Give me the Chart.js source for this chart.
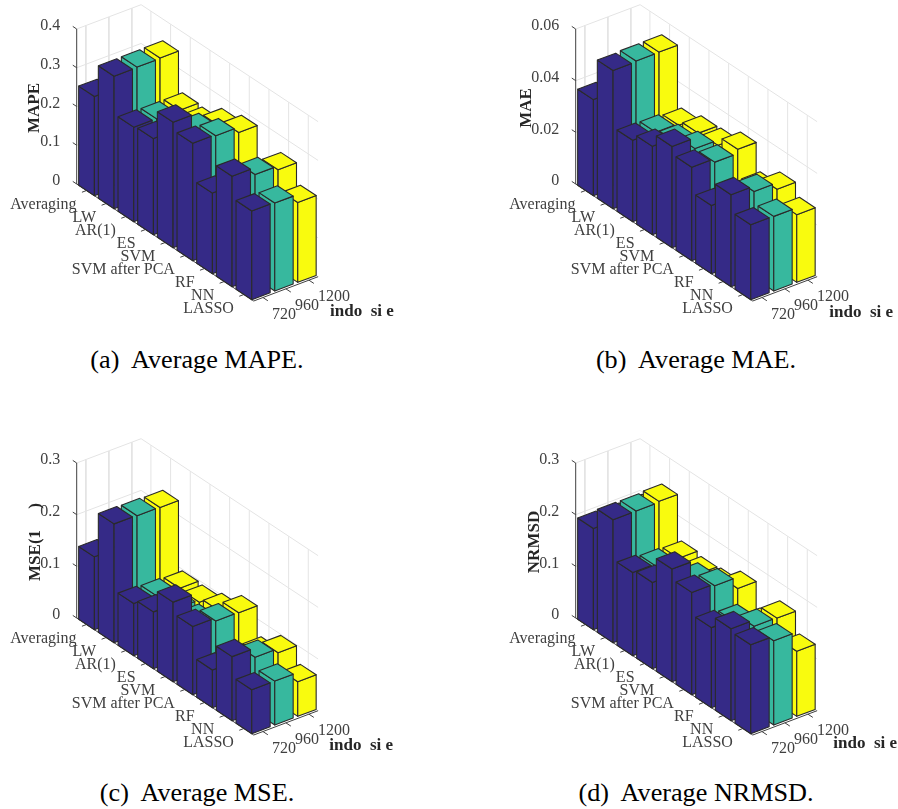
<!DOCTYPE html>
<html>
<head>
<meta charset="utf-8">
<title>Average errors</title>
<script src="https://cdn.jsdelivr.net/npm/chart.js@4"></script>
<style>
  html, body { margin: 0; padding: 0; background: #fff; }
  #page { position: relative; width: 898px; height: 809px; overflow: hidden; }
  canvas { position: absolute; }
  .caption {
    position: absolute; width: 400px; text-align: center; white-space: pre;
    font: 26.2px "Liberation Serif", serif; color: #000; line-height: 30px;
  }
</style>
</head>
<body>
<div id="page">
  <canvas id="chartA" width="399" height="340" style="left:0;top:0"></canvas>
  <canvas id="chartB" width="399" height="340" style="left:499px;top:0"></canvas>
  <canvas id="chartC" width="399" height="340" style="left:0;top:433.7px"></canvas>
  <canvas id="chartD" width="399" height="340" style="left:499px;top:433.7px"></canvas>
  <div class="caption" style="left:-3px;top:345px">(a)  Average MAPE.</div>
  <div class="caption" style="left:496px;top:345px">(b)  Average MAE.</div>
  <div class="caption" style="left:-3px;top:778px">(c)  Average MSE.</div>
  <div class="caption" style="left:496px;top:778px">(d)  Average NRMSD.</div>
</div>
<script>
const methods = ['Averaging', 'LW', 'AR(1)', 'ES', 'SVM', 'SVM after PCA', 'RF', 'NN', 'LASSO'];
const windowSizes = ['720', '960', '1200'];

const mape720 = [0.256, 0.342, 0.244, 0.248, 0.324, 0.303, 0.208, 0.285, 0.229];
const mape960 = [0.250, 0.343, 0.243, 0.245, 0.280, 0.300, 0.205, 0.267, 0.227];
const mape1200 = [0.250, 0.344, 0.243, 0.240, 0.270, 0.286, 0.200, 0.257, 0.206];
const mapeTicks = [0, 0.1, 0.2, 0.3, 0.4];

const mae720 = [0.0372, 0.0535, 0.0315, 0.0342, 0.0392, 0.0362, 0.0264, 0.0356, 0.0290];
const mae960 = [0.0370, 0.0538, 0.0313, 0.0327, 0.0350, 0.0348, 0.0260, 0.0335, 0.0289];
const mae1200 = [0.0370, 0.0539, 0.0306, 0.0326, 0.0329, 0.0364, 0.0260, 0.0310, 0.0262];
const maeTicks = [0, 0.02, 0.04, 0.06];

const mse720 = [0.141, 0.230, 0.101, 0.110, 0.154, 0.132, 0.073, 0.124, 0.085];
const mse960 = [0.140, 0.229, 0.099, 0.100, 0.100, 0.126, 0.070, 0.106, 0.085];
const mse1200 = [0.140, 0.228, 0.097, 0.095, 0.104, 0.125, 0.070, 0.098, 0.067];
const mseTicks = [0, 0.1, 0.2, 0.3];

const nrmsd720 = [0.196, 0.238, 0.161, 0.167, 0.218, 0.198, 0.155, 0.178, 0.172];
const nrmsd960 = [0.195, 0.238, 0.157, 0.155, 0.180, 0.194, 0.150, 0.166, 0.163];
const nrmsd1200 = [0.195, 0.240, 0.155, 0.150, 0.153, 0.172, 0.126, 0.165, 0.126];
const nrmsdTicks = [0, 0.1, 0.2, 0.3];

// colours of the three windows (parula), same order as windowSizes
const barColors = ['#352a87', '#37b89e', '#f9fb0e'];
const edgeColor = '#2a2a2a';
const gridColor = '#e4e4e4';
const axisColor = '#404040';

// the view of the 3D box, in px
const AXIS_LEFT = 76.7;
const FLOOR_Y = 184;
const BOX_HEIGHT = 155;
const METHOD_DX = 19.67;
const METHOD_DY = 13;
const WINDOW_DX = 23;
const WINDOW_DY = 8.68;
const CANVAS_W = 399;
const CANVAS_H = 340;

const M_MIN = 0.5, M_MAX = 9.5, W_MIN = 0.6, W_MAX = 3.4;
const BAR_HALF = 0.4;
const SERIF = '"Liberation Serif", serif';

function makeChart(id, series, yTicks, yTitle, yTitleX, yTitleY, xTitle, xTitleX, xTitleY) {
  const top = yTicks[yTicks.length - 1];
  const pxPerUnit = BOX_HEIGHT / top;

  // 3D point -> chart data point, the scales do the rest
  function pt(m, w, v) {
    return {
      x: (m - M_MIN) + (w - W_MIN) * WINDOW_DX / METHOD_DX,
      y: v - ((m - M_MIN) * METHOD_DY - (w - W_MIN) * WINDOW_DY) / pxPerUnit
    };
  }

  const datasets = [];
  function line(points, color, width) {
    datasets.push({
      data: points, showLine: true, fill: false, borderColor: color, borderWidth: width,
      pointRadius: 0, clip: false, order: -datasets.length
    });
  }
  function face(points, color) {
    datasets.push({
      data: points.concat([points[0]]), showLine: true, fill: 'shape', backgroundColor: color,
      borderColor: edgeColor, borderWidth: 1.1, borderJoinStyle: 'round',
      pointRadius: 0, clip: false, order: -datasets.length
    });
  }

  // walls and floor
  yTicks.forEach(function (v) {
    line([pt(M_MIN, W_MIN, v), pt(M_MIN, W_MAX, v), pt(M_MAX, W_MAX, v)], gridColor, 1);
  });
  windowSizes.forEach(function (s, i) {
    line([pt(M_MIN, i + 1, top), pt(M_MIN, i + 1, 0), pt(M_MAX, i + 1, 0)], gridColor, 1);
  });
  methods.forEach(function (s, i) {
    line([pt(i + 1, W_MIN, 0), pt(i + 1, W_MAX, 0), pt(i + 1, W_MAX, top)], gridColor, 1);
  });

  // axes and tick marks
  line([pt(M_MIN, W_MIN, 0), pt(M_MIN, W_MIN, top)], axisColor, 1);
  line([pt(M_MIN, W_MIN, 0), pt(M_MAX, W_MIN, 0), pt(M_MAX, W_MAX, 0)], axisColor, 1);
  yTicks.forEach(function (v) {
    line([pt(M_MIN, W_MIN, v), pt(M_MIN - 0.2, W_MIN, v)], axisColor, 1);
  });
  methods.forEach(function (s, i) {
    line([pt(i + 1, W_MIN, 0), pt(i + 1, W_MIN - 0.2, 0)], axisColor, 1);
  });
  windowSizes.forEach(function (s, i) {
    line([pt(M_MAX, i + 1, 0), pt(M_MAX + 0.25, i + 1, 0)], axisColor, 1);
  });

  // bars, far ones first
  methods.forEach(function (s, mi) {
    for (let wi = windowSizes.length - 1; wi >= 0; wi--) {
      const v = series[wi][mi];
      const m0 = mi + 1 - BAR_HALF, m1 = mi + 1 + BAR_HALF;
      const w0 = wi + 1 - BAR_HALF, w1 = wi + 1 + BAR_HALF;
      face([pt(m0, w0, 0), pt(m1, w0, 0), pt(m1, w0, v), pt(m0, w0, v)], barColors[wi]);
      face([pt(m1, w0, 0), pt(m1, w1, 0), pt(m1, w1, v), pt(m1, w0, v)], barColors[wi]);
      face([pt(m0, w0, v), pt(m1, w0, v), pt(m1, w1, v), pt(m0, w1, v)], barColors[wi]);
    }
  });

  const labelPlugin = {
    id: 'labels3d',
    afterDraw: function (chart) {
      const c = chart.ctx, sx = chart.scales.x, sy = chart.scales.y;
      c.save();
      c.fillStyle = axisColor;
      c.font = '16px ' + SERIF;
      c.textBaseline = 'middle';

      c.textAlign = 'right';
      methods.forEach(function (name, i) {
        const p = pt(i + 1, W_MIN, 0);
        c.fillText(name, sx.getPixelForValue(p.x) - 10, sy.getPixelForValue(p.y) + 14.5);
      });

      c.textAlign = 'left';
      windowSizes.forEach(function (name, i) {
        const p = pt(M_MAX, i + 1, 0);
        c.fillText(name, sx.getPixelForValue(p.x) + 9, sy.getPixelForValue(p.y) + 17);
      });

      c.fillStyle = '#262626';
      c.font = 'bold 17px ' + SERIF;
      c.fillText(xTitle, xTitleX, xTitleY);

      c.translate(yTitleX, yTitleY);
      c.rotate(-Math.PI / 2);
      c.textAlign = 'center';
      c.fillText(yTitle, 0, 0);
      c.restore();
    }
  };

  return new Chart(document.getElementById(id), {
    type: 'scatter',
    data: { datasets: datasets },
    plugins: [labelPlugin],
    options: {
      responsive: false,
      animation: false,
      devicePixelRatio: 1,
      layout: { padding: 0 },
      events: [],
      plugins: { legend: { display: false }, tooltip: { enabled: false } },
      scales: {
        x: {
          display: false,
          min: 0,
          max: (CANVAS_W - AXIS_LEFT) / METHOD_DX
        },
        y: {
          min: (FLOOR_Y - CANVAS_H) / pxPerUnit,
          max: FLOOR_Y / pxPerUnit,
          afterFit: function (scale) {
            // the box needs the whole canvas height, no room kept for the end labels
            scale.width = AXIS_LEFT;
            scale.paddingTop = 0;
            scale.paddingBottom = 0;
          },
          afterBuildTicks: function (scale) {
            scale.ticks = yTicks.map(function (v) { return { value: v }; });
          },
          grid: { display: false },
          border: { display: false },
          ticks: {
            autoSkip: false,
            padding: 8.5,
            labelOffset: -3,
            color: axisColor,
            font: { family: SERIF, size: 16 },
            callback: function (v) { return String(v); }
          }
        }
      }
    }
  });
}

makeChart('chartA', [mape720, mape960, mape1200], mapeTicks, 'MAPE', 35, 108, 'indo  si e', 330, 312);
makeChart('chartB', [mae720, mae960, mae1200], maeTicks, 'MAE', 27.7, 108, 'indo  si e', 330.3, 312.7);
makeChart('chartC', [mse720, mse960, mse1200], mseTicks, 'MSE(1     )', 36, 108, 'indo  si e', 329.3, 312);
makeChart('chartD', [nrmsd720, nrmsd960, nrmsd1200], nrmsdTicks, 'NRMSD', 36, 108, 'indo  si e', 334.3, 309.6);
</script>
</body>
</html>
